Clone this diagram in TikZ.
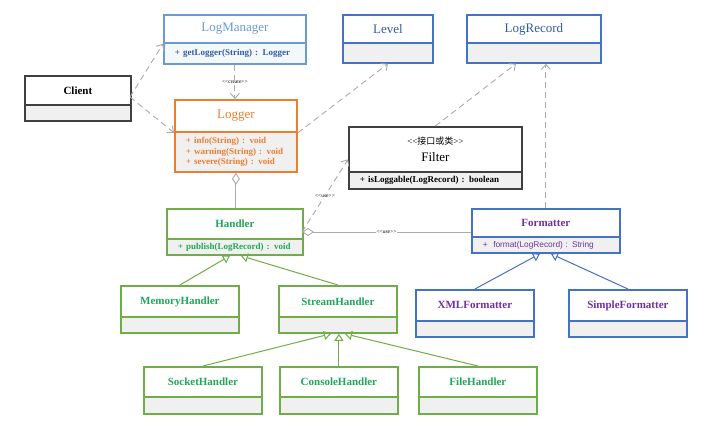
\documentclass[tikz,border=0pt]{standalone}
\usepackage{fontspec}
\setmainfont{Liberation Serif}
\setsansfont{Liberation Sans}
\newfontfamily\cjk{Noto Sans CJK SC}
\usetikzlibrary{arrows.meta}
\usetikzlibrary{calc}
\definecolor{umlblue}{HTML}{4472C4}
\definecolor{lightblue}{HTML}{6A9BD6}
\definecolor{textblue}{HTML}{2F5BA6}
\definecolor{umlorange}{HTML}{ED7D31}
\definecolor{umlgreen}{HTML}{70AD47}
\definecolor{textgreen}{HTML}{1FA85A}
\definecolor{umlpurple}{HTML}{7030A0}
\definecolor{umldark}{HTML}{404040}
\definecolor{compgray}{HTML}{F0F0F0}
\definecolor{linegray}{HTML}{ABABAB}
\newcommand{\ltlt}{<\kern0pt<}
\newcommand{\gtgt}{>\kern0pt>}

\begin{document}
\begin{tikzpicture}[x=1pt,y=-1pt,
    head/.style={draw, line width=1.8pt, anchor=north west, inner sep=0pt, fill=white},
    comp/.style={draw, line width=1.8pt, anchor=north west, inner xsep=11pt, inner ysep=0pt, fill=compgray, align=left},
    title/.style={font=\fontsize{13}{15}\selectfont},
    btitle/.style={font=\fontsize{11}{13}\selectfont\bfseries},
    member/.style={font=\fontsize{9}{10.5}\selectfont\bfseries},
    stereo/.style={font=\fontsize{5.5}{6}\selectfont, fill=white, inner sep=0.6pt, text=black},
    dep/.style={draw=linegray, line width=0.9pt, dash pattern=on 6pt off 4pt, -{Straight Barb[length=5pt,width=9pt]}},
    agg/.style={draw=linegray, line width=0.9pt, {Diamond[open,length=12pt,width=8pt]}-},
    gen/.style={draw=#1, line width=1pt, -{Triangle[open,length=7pt,width=9pt]}}]
    \useasboundingbox[fill=white] (0,0) rectangle (722,435);

    \node[head, draw=lightblue, title, text=lightblue, minimum width=142pt, minimum height=28pt] (logmgr) at (163,14) {LogManager};
    \node[comp, draw=lightblue, fill=compgray!60!lightblue!15, member, text=textblue, minimum width=142pt, minimum height=21pt, text width=120pt] (logmgr-c) at (163,42) {+ getLogger(String) : Logger};
    \node[head, draw=umlblue, title, text=textblue, minimum width=90pt, minimum height=28pt] (level) at (342,14) {Level};
    \node[comp, draw=umlblue, minimum width=90pt, minimum height=20pt] (level-c) at (342,42) {};
    \node[head, draw=umlblue, title, text=textblue, minimum width=134pt, minimum height=28pt] (logrec) at (466,14) {LogRecord};
    \node[comp, draw=umlblue, minimum width=134pt, minimum height=20pt] (logrec-c) at (466,42) {};

    \node[head, draw=umldark, btitle, minimum width=106pt, minimum height=29pt] (client) at (24,75) {Client};
    \node[comp, draw=umldark, minimum width=106pt, minimum height=16pt] (client-c) at (24,104) {};

    \node[head, draw=umlorange, title, text=umlorange, minimum width=122pt, minimum height=32pt] (logger) at (174,99) {Logger};
    \node[comp, draw=umlorange, member, text=umlorange, minimum width=122pt, minimum height=40pt, text width=100pt] (logger-c) at (174,131) {+ info(String) : void\\+ warning(String) : void\\+ severe(String) : void};

    \node[head, draw=umldark, align=center, minimum width=173pt, minimum height=45pt] (filter) at (348,126) {{\fontsize{9}{10}\selectfont \ltlt{\cjk 接口或类}\gtgt}\\[5pt]{\fontsize{13}{15}\selectfont Filter}};
    \node[comp, draw=umldark, member, text=black, minimum width=173pt, minimum height=17pt, text width=151pt] (filter-c) at (348,171) {+ isLoggable(LogRecord) : boolean};

    \node[head, draw=umlgreen, btitle, text=textgreen, minimum width=136pt, minimum height=30pt] (handler) at (166,208) {Handler};
    \node[comp, draw=umlgreen, member, text=textgreen, minimum width=136pt, minimum height=16pt, text width=114pt] (handler-c) at (166,238) {+ publish(LogRecord) : void};
    \node[head, draw=umlblue, btitle, text=umlpurple, minimum width=148pt, minimum height=28pt] (fmt) at (471,208) {Formatter};
    \node[comp, draw=umlblue, font=\sffamily\fontsize{8.3}{10}\selectfont, text=umlpurple, minimum width=148pt, minimum height=16pt, text width=126pt] (fmt-c) at (471,236) {+ \ format(LogRecord) : String};

    \node[head, draw=umlgreen, btitle, text=textgreen, minimum width=118pt, minimum height=31pt] (memh) at (120,285) {MemoryHandler};
    \node[comp, draw=umlgreen, minimum width=118pt, minimum height=16pt] (memh-c) at (120,316) {};
    \node[head, draw=umlgreen, btitle, text=textgreen, minimum width=118pt, minimum height=31pt] (streamh) at (278,285) {StreamHandler};
    \node[comp, draw=umlgreen, minimum width=118pt, minimum height=16pt] (streamh-c) at (278,316) {};
    \node[head, draw=umlblue, btitle, text=umlpurple, minimum width=118pt, minimum height=31pt] (xmlfmt) at (415,289) {XMLFormatter};
    \node[comp, draw=umlblue, minimum width=118pt, minimum height=16pt] (xmlfmt-c) at (415,320) {};
    \node[head, draw=umlblue, btitle, text=umlpurple, minimum width=118pt, minimum height=31pt] (simplefmt) at (568,289) {SimpleFormatter};
    \node[comp, draw=umlblue, minimum width=118pt, minimum height=16pt] (simplefmt-c) at (568,320) {};

    \node[head, draw=umlgreen, btitle, text=textgreen, minimum width=118pt, minimum height=30pt] (sockh) at (143,366) {SocketHandler};
    \node[comp, draw=umlgreen, minimum width=118pt, minimum height=17pt] (sockh-c) at (143,396) {};
    \node[head, draw=umlgreen, btitle, text=textgreen, minimum width=118pt, minimum height=30pt] (consh) at (279,366) {ConsoleHandler};
    \node[comp, draw=umlgreen, minimum width=118pt, minimum height=17pt] (consh-c) at (279,396) {};
    \node[head, draw=umlgreen, btitle, text=textgreen, minimum width=118pt, minimum height=30pt] (fileh) at (418,366) {FileHandler};
    \node[comp, draw=umlgreen, minimum width=118pt, minimum height=17pt] (fileh-c) at (418,396) {};

    \coordinate (cl-out) at (130,97);
    \coordinate (h-agg) at (302,232);
    \draw[dep] (cl-out) -- (logmgr.south west);
    \draw[dep] (cl-out) -- (logger.south west);
    \draw[dep] (logmgr-c.south) -- node[stereo] {\ltlt create\gtgt} (logmgr-c.south |- logger.north);
    \draw[dep] (logger.south east) -- (level-c.south);
    \draw[dep] (filter.north) -- ($(logrec-c.south)+(-18,0)$);
    \draw[dep] (fmt.north) -- (fmt.north |- logrec-c.south);
    \draw[agg] (logger-c.south) -- (logger-c.south |- handler.north);
    \draw[dep] (h-agg) -- node[stereo] {\ltlt use\gtgt} ($(filter.west)+(0,10)$);
    \draw[agg] (h-agg) -- node[stereo] {\ltlt use\gtgt} (h-agg -| fmt.west);

    \draw[gen=umlgreen] (memh.north) -- ($(handler-c.south)+(-5,0)$);
    \draw[gen=umlgreen] (streamh.north) -- ($(handler-c.south)+(6,0)$);
    \draw[gen=umlblue] (xmlfmt.north) -- ($(fmt-c.south)+(-6,0)$);
    \draw[gen=umlblue] (simplefmt.north) -- ($(fmt-c.south)+(5,0)$);
    \draw[gen=umlgreen] (sockh.north) -- ($(streamh-c.south)+(-7,0)$);
    \draw[gen=umlgreen] (consh.north) -- (consh.north |- streamh-c.south);
    \draw[gen=umlgreen] (fileh.north) -- ($(streamh-c.south)+(7,0)$);
\end{tikzpicture}
\end{document}
